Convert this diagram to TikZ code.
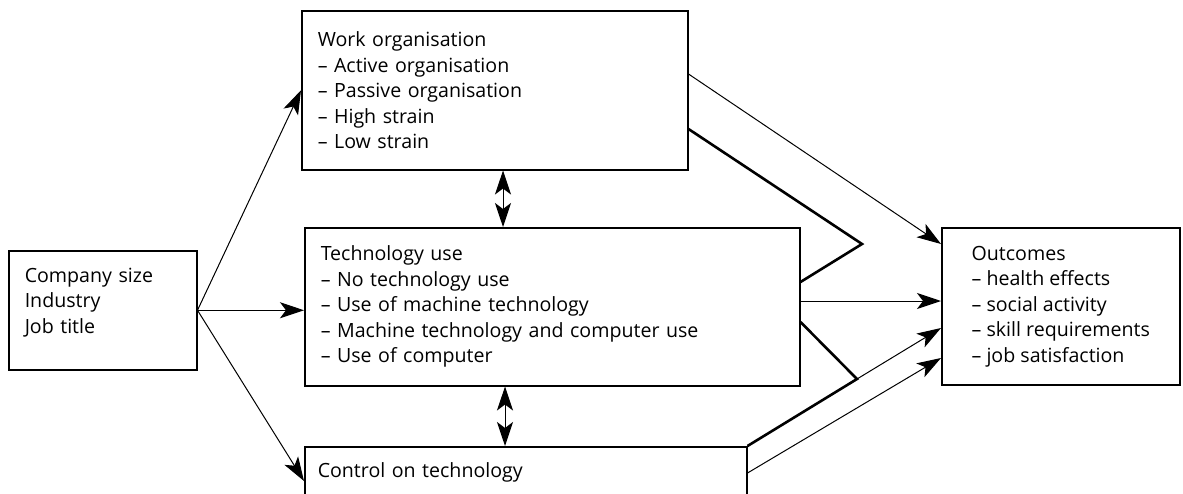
\documentclass[tikz,border=0pt]{standalone}
\usepackage{fontspec}
\setmainfont{Open Sans}
\usetikzlibrary{arrows.meta}
\tikzset{
  box/.style={draw,line width=.75pt,align=left,anchor=north west,inner xsep=8pt},
  tip/.style={Stealth[length=12pt,width=8pt,inset=3pt]},
  arr/.style={line width=.5pt,-{Stealth[length=12pt,width=8pt,inset=3pt]}},
  darr/.style={line width=.5pt,{Stealth[length=12pt,width=8pt,inset=3pt]}-{Stealth[length=12pt,width=8pt,inset=3pt]}},
  thk/.style={line width=1.3pt}
}
\begin{document}
\begin{tikzpicture}[x=.5pt,y=-.5pt,font=\fontsize{9.8}{12.75}\selectfont]
\clip (0,0) rectangle (1183,493);
\node[box,text width=78pt,minimum height=59.5pt] (firm) at (8,250) {Company size\\Industry\\Job title\rule[-9.5pt]{0pt}{0pt}};
\node[box,text width=177pt,minimum height=79.5pt] (work) at (301,10) {Work organisation\\-- Active organisation\\-- Passive organisation\\-- High strain\\-- Low strain};
\node[box,text width=231.5pt,minimum height=79pt] (tech) at (304,227) {Technology use\\-- No technology use\\-- Use of machine technology\\-- Machine technology and computer use\\-- Use of computer};
\node[box,inner xsep=6.5pt,text width=208pt,text height=7.5pt,text depth=40pt,inner ysep=8pt] (ctrl) at (304,446) {Control on technology};
\node[box,minimum width=119pt,minimum height=78.5pt] (out) at (941,227) {Outcomes\\-- health effects\\-- social activity\\-- skill requirements\\-- job satisfaction};
% bends of the merged lines
\coordinate (m1) at (862,244);
\coordinate (m2) at (857,379);
\draw[arr] (firm.east) -- (work.west);
\draw[arr] (firm.east) -- (tech.west |- firm.east);
\draw[arr] (firm.east) -- (ctrl.west |- 0,481);
\draw[darr] (work.south -| 503,0) -- (tech.north -| 503,0);
\draw[darr] (tech.south -| 505,0) -- (ctrl.north -| 505,0);
\draw[arr] (work.east |- 0,74) -- (out.west |- 0,244);
\draw[thk] (work.east |- 0,129) -- (m1) -- (tech.east |- 0,282);
\draw[arr] (tech.east |- 0,301) -- (out.west |- 0,301);
\draw[thk] (tech.east |- 0,322) -- (m2) -- (ctrl.north east);
\draw[arr] (m2) -- (out.west |- 0,328);
\draw[arr] (ctrl.east |- 0,473) -- (out.west |- 0,358);
\end{tikzpicture}
\end{document}
